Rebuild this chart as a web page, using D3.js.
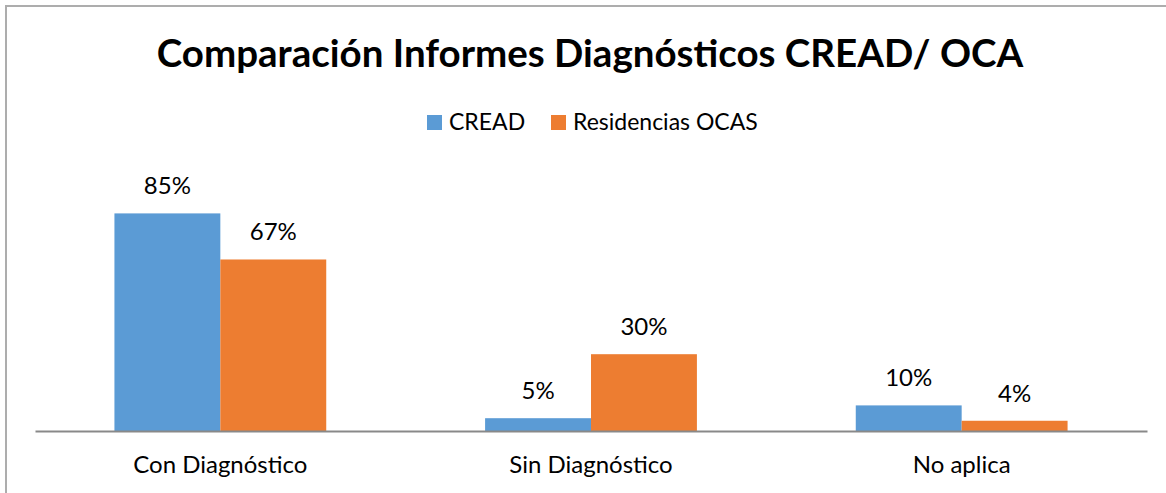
<!DOCTYPE html>
<html>
<head>
<meta charset="utf-8">
<script src="https://cdn.jsdelivr.net/npm/d3@7"></script>
<style>
  body { margin: 0; background: #fff; }
  svg { display: block; font-family: Lato, "Open Sans", sans-serif; }
</style>
</head>
<body>
<svg width="1166" height="493"></svg>
<script>
var categories = ["Con Diagnóstico", "Sin Diagnóstico", "No aplica"];
var seriesNames = ["CREAD", "Residencias OCAS"];
var cread = [0.85, 0.05, 0.10];
var ocas = [0.67, 0.30, 0.04];
var colors = ["#5B9BD5", "#ED7D31"];

var data = categories.map(function(c, i) {
  return {cat: c, values: [cread[i], ocas[i]]};
});

var svg = d3.select("svg"),
    margin = {left: 35, right: 19, base: 431};

// outer frame (right/bottom edges fall outside the picture)
svg.append("rect")
    .attr("x", 6).attr("y", 6)
    .attr("width", 1200).attr("height", 600)
    .attr("fill", "none")
    .attr("stroke", "#ADADAD")
    .attr("stroke-width", 2);

svg.append("text")
    .attr("x", 590)
    .attr("y", 67)
    .attr("text-anchor", "middle")
    .attr("font-weight", "bold")
    .attr("font-size", 38.5)
    .attr("fill", "#000")
    .text("Comparación Informes Diagnósticos CREAD/ OCA");

var x0 = d3.scaleBand()
    .domain(categories)
    .range([margin.left, 1166 - margin.right])
    .padding(0);

var x1 = d3.scaleBand()
    .domain(seriesNames)
    .range([0, x0.bandwidth()])
    .paddingInner(0)
    .paddingOuter(0.75);

var y = d3.scaleLinear()
    .domain([0, 0.9])
    .range([margin.base, margin.base - 230.4]);

var z = d3.scaleOrdinal().domain(seriesNames).range(colors);

var groups = svg.append("g")
  .selectAll("g")
  .data(data)
  .enter().append("g")
    .attr("transform", function(d) { return "translate(" + x0(d.cat) + ",0)"; });

var bars = groups.selectAll("g")
  .data(function(d) { return d.values.map(function(v, j) { return {key: seriesNames[j], value: v}; }); })
  .enter().append("g");

bars.append("rect")
    .attr("x", function(d) { return x1(d.key); })
    .attr("y", function(d) { return y(d.value); })
    .attr("width", x1.bandwidth())
    .attr("height", function(d) { return y(0) - y(d.value); })
    .attr("fill", function(d) { return z(d.key); });

bars.append("text")
    .attr("x", function(d) { return x1(d.key) + x1.bandwidth() / 2; })
    .attr("y", function(d) { return y(d.value) - 19; })
    .attr("text-anchor", "middle")
    .attr("font-size", 24)
    .attr("fill", "#000")
    .text(function(d) { return d3.format(".0%")(d.value); });

var axis = svg.append("g")
    .attr("transform", "translate(0," + margin.base + ")")
    .call(d3.axisBottom(x0).tickSize(0).tickSizeOuter(0));

axis.select(".domain")
    .attr("stroke", "#898989")
    .attr("stroke-width", 2);

axis.selectAll("text")
    .attr("y", 42)
    .attr("dy", 0)
    .attr("font-size", 24)
    .attr("font-family", "Lato, 'Open Sans', sans-serif")
    .attr("fill", "#000");

// legend
var legendX = [427, 551];
var legend = svg.append("g")
  .selectAll("g")
  .data(seriesNames)
  .enter().append("g")
    .attr("transform", function(d, i) { return "translate(" + legendX[i] + ",115)"; });

legend.append("rect")
    .attr("width", 15)
    .attr("height", 15)
    .attr("fill", z);

legend.append("text")
    .attr("x", 22)
    .attr("y", 14.5)
    .attr("font-size", 23)
    .attr("fill", "#000")
    .text(function(d) { return d; });
</script>
</body>
</html>
